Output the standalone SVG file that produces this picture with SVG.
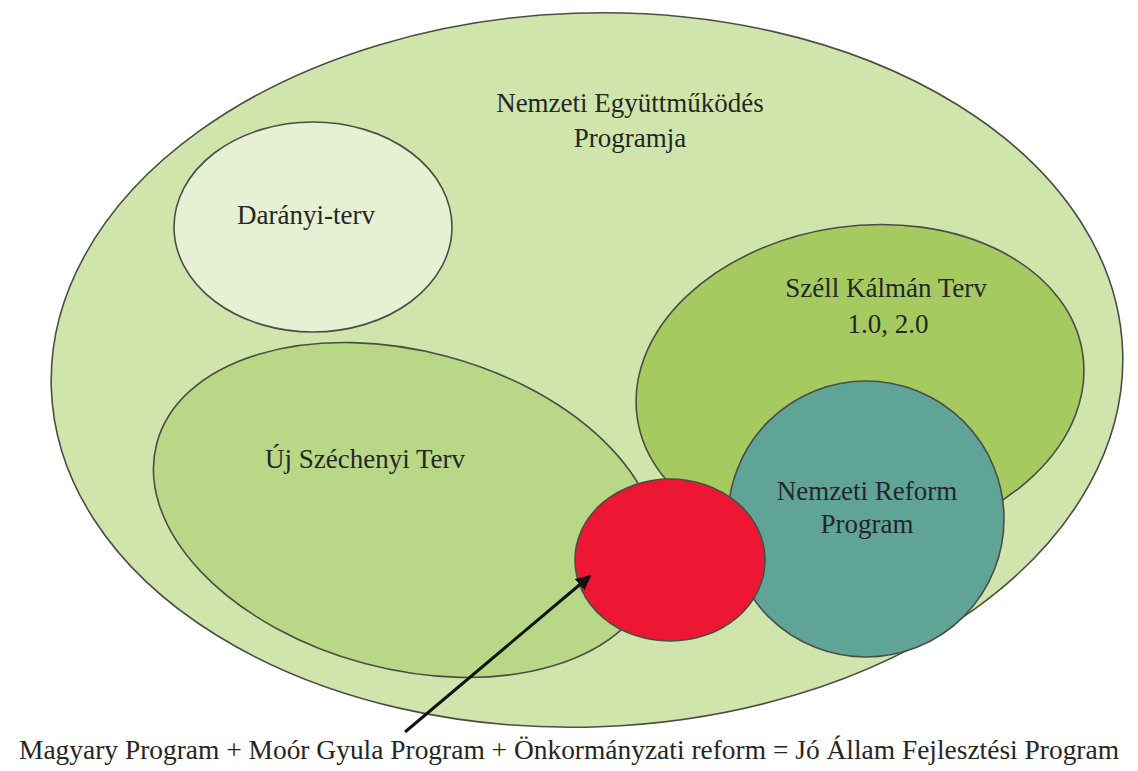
<svg xmlns="http://www.w3.org/2000/svg" width="1138" height="771" viewBox="0 0 1138 771">
  <defs>
    <style>
      .shape { stroke: #4d4d47; stroke-width: 1.6; }
      .lbl { font-family: "Liberation Serif", "DejaVu Serif", serif; fill: #262626; text-anchor: middle; font-size: 27px; }
      .conn { stroke: #111; stroke-width: 3; fill: none; }
    </style>
    <marker id="arrow" viewBox="0 0 10 10" refX="9" refY="5" markerWidth="5" markerHeight="5" orient="auto" markerUnits="strokeWidth">
      <path d="M0,0 L10,5 L0,10 z" fill="#111"/>
    </marker>
  </defs>
  <rect width="1138" height="771" fill="#ffffff"/>

  <g id="nemzeti-egyuttmukodes">
    <ellipse class="shape" cx="587" cy="370" rx="536" ry="357" transform="rotate(-2 587 370)" fill="#cfe5ab"/>
    <text class="lbl" x="630" y="112">Nemzeti Együttműködés</text>
    <text class="lbl" x="630" y="147">Programja</text>
  </g>

  <g id="daranyi-terv">
    <ellipse class="shape" cx="313" cy="227" rx="139" ry="105" fill="#e6f0d3"/>
    <text class="lbl" x="306" y="224">Darányi-terv</text>
  </g>

  <g id="szell-kalman-terv">
    <ellipse class="shape" cx="860" cy="386" rx="225" ry="160" transform="rotate(-8 860 386)" fill="#a5cb60"/>
    <text class="lbl" x="886" y="297">Széll Kálmán Terv</text>
    <text class="lbl" x="888" y="333">1.0, 2.0</text>
  </g>

  <g id="uj-szechenyi-terv">
    <ellipse class="shape" cx="406" cy="510" rx="258" ry="159" transform="rotate(15 406 510)" fill="#b8d787"/>
    <text class="lbl" x="365" y="468">Új Széchenyi Terv</text>
  </g>

  <g id="nemzeti-reform-program">
    <circle class="shape" cx="866" cy="519" r="138" fill="#5fa497"/>
    <text class="lbl" x="867" y="500">Nemzeti Reform</text>
    <text class="lbl" x="867" y="533">Program</text>
  </g>

  <g id="jo-allam">
    <ellipse class="shape" cx="670" cy="560" rx="95" ry="81" fill="#ed1733"/>
  </g>

  <g id="connectors">
    <line class="conn" x1="405" y1="732" x2="590" y2="576" marker-end="url(#arrow)"/>
  </g>

  <g id="caption">
    <text x="569" y="759" font-size="27" text-anchor="middle" textLength="1100" lengthAdjust="spacingAndGlyphs" font-family="Liberation Serif, DejaVu Serif, serif" fill="#262626">Magyary Program + Moór Gyula Program + Önkormányzati reform = Jó Állam Fejlesztési Program</text>
  </g>
</svg>
